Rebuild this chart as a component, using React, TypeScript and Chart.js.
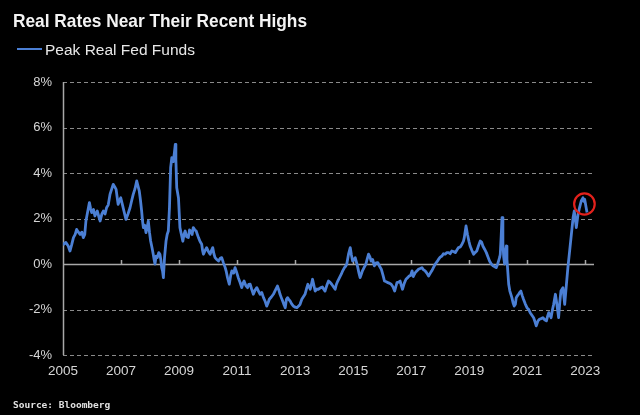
import React, { useEffect, useRef } from "react";
import { Chart, registerables } from "chart.js";

Chart.register(...registerables);

// ---- Data (decimal year, real rate %) ----
const dates: number[] = [
  2005.00, 2005.03, 2005.10, 2005.18, 2005.24, 2005.30, 2005.36, 2005.42, 2005.47, 2005.53, 2005.59, 2005.65, 2005.70, 2005.75, 2005.79, 2005.85, 2005.91, 2005.95, 2005.99,
  2006.05, 2006.10, 2006.18, 2006.23, 2006.28, 2006.34, 2006.39, 2006.45, 2006.50, 2006.56, 2006.62, 2006.68, 2006.73, 2006.78, 2006.83, 2006.87, 2006.90, 2006.95, 2006.99,
  2007.05, 2007.10, 2007.17, 2007.24, 2007.31, 2007.37, 2007.42, 2007.48, 2007.54, 2007.59, 2007.63, 2007.67, 2007.71, 2007.74, 2007.77, 2007.82, 2007.86, 2007.90, 2007.94, 2007.98,
  2008.02, 2008.07, 2008.11, 2008.14, 2008.17, 2008.21, 2008.25, 2008.30, 2008.34, 2008.37, 2008.40, 2008.43, 2008.46, 2008.50, 2008.55, 2008.59, 2008.63, 2008.67, 2008.71, 2008.75, 2008.80, 2008.84, 2008.87, 2008.89, 2008.92, 2008.98,
  2009.03, 2009.08, 2009.13, 2009.17, 2009.21, 2009.26, 2009.32, 2009.36, 2009.40, 2009.45, 2009.49, 2009.54, 2009.59, 2009.63, 2009.67, 2009.72, 2009.78, 2009.81, 2009.84, 2009.90, 2009.95,
  2010.01, 2010.07, 2010.12, 2010.16, 2010.20, 2010.24, 2010.30, 2010.36, 2010.42, 2010.47, 2010.53, 2010.59, 2010.63, 2010.67, 2010.73, 2010.78, 2010.82, 2010.88, 2010.93, 2010.98,
  2011.04, 2011.10, 2011.16, 2011.20, 2011.24, 2011.30, 2011.36, 2011.40, 2011.45, 2011.50, 2011.56, 2011.62, 2011.68, 2011.74, 2011.79, 2011.85, 2011.91, 2011.97,
  2012.02, 2012.07, 2012.11, 2012.18, 2012.25, 2012.32, 2012.39, 2012.44, 2012.48, 2012.53, 2012.57, 2012.62, 2012.66, 2012.70, 2012.74, 2012.78, 2012.83, 2012.88, 2012.94,
  2013.00, 2013.06, 2013.12, 2013.17, 2013.23, 2013.28, 2013.34, 2013.39, 2013.44, 2013.48, 2013.52, 2013.56, 2013.60, 2013.64, 2013.69, 2013.75, 2013.80, 2013.87, 2013.94, 2013.98,
  2014.03, 2014.09, 2014.15, 2014.20, 2014.26, 2014.32, 2014.38, 2014.42, 2014.47, 2014.53, 2014.59, 2014.64, 2014.70, 2014.74, 2014.78, 2014.84, 2014.90, 2014.94, 2014.98,
  2015.03, 2015.07, 2015.12, 2015.16, 2015.20, 2015.24, 2015.28, 2015.32, 2015.38, 2015.44, 2015.48, 2015.53, 2015.58, 2015.62, 2015.67, 2015.73, 2015.79, 2015.85, 2015.91, 2015.97,
  2016.03, 2016.08, 2016.14, 2016.20, 2016.26, 2016.31, 2016.37, 2016.43, 2016.47, 2016.51, 2016.57, 2016.62, 2016.66, 2016.70, 2016.76, 2016.82, 2016.88, 2016.93, 2016.98,
  2017.03, 2017.07, 2017.11, 2017.14, 2017.20, 2017.25, 2017.31, 2017.37, 2017.42, 2017.48, 2017.54, 2017.60, 2017.66, 2017.71, 2017.77, 2017.83, 2017.89, 2017.94,
  2018.00, 2018.06, 2018.11, 2018.17, 2018.23, 2018.29, 2018.34, 2018.40, 2018.46, 2018.52, 2018.57, 2018.63, 2018.69, 2018.75, 2018.80, 2018.83, 2018.89, 2018.94, 2018.99,
  2019.03, 2019.09, 2019.15, 2019.20, 2019.26, 2019.32, 2019.38, 2019.43, 2019.47, 2019.53, 2019.59, 2019.65, 2019.70, 2019.76, 2019.82, 2019.88, 2019.93, 2019.98,
  2020.01, 2020.05, 2020.07, 2020.10, 2020.13, 2020.16, 2020.19, 2020.22, 2020.25, 2020.28, 2020.30, 2020.32, 2020.36, 2020.40, 2020.47, 2020.51, 2020.55, 2020.59, 2020.62, 2020.66, 2020.70, 2020.74, 2020.78, 2020.83, 2020.87, 2020.93, 2020.99,
  2021.05, 2021.10, 2021.16, 2021.22, 2021.27, 2021.31, 2021.37, 2021.42, 2021.48, 2021.54, 2021.60, 2021.66, 2021.70, 2021.74, 2021.78, 2021.82, 2021.87, 2021.91, 2021.97,
  2022.02, 2022.08, 2022.12, 2022.16, 2022.23, 2022.29, 2022.34, 2022.40, 2022.46, 2022.52, 2022.58, 2022.62, 2022.69, 2022.75, 2022.80, 2022.86, 2022.92, 2022.95, 2022.98,
  2023.03, 2023.06,
];

const values: number[] = [
  0.90, 0.87, 0.95, 0.79, 0.57, 0.85, 1.16, 1.30, 1.52, 1.40, 1.30, 1.40, 1.16, 1.30, 1.89, 2.30, 2.70, 2.45, 2.26,
  2.40, 2.11, 2.33, 2.10, 1.89, 2.20, 2.33, 2.20, 2.47, 2.60, 3.06, 3.30, 3.50, 3.40, 3.28, 2.90, 2.62, 2.80, 2.91,
  2.60, 2.33, 1.96, 2.20, 2.47, 2.80, 3.06, 3.30, 3.65, 3.40, 3.20, 2.80, 2.33, 1.90, 1.60, 1.70, 1.38, 1.60, 1.89, 1.40,
  1.01, 0.70, 0.43, 0.20, 0.00, 0.35, 0.28, 0.50, 0.43, 0.20, -0.16, -0.30, -0.60, 0.30, 1.00, 1.30, 1.45, 2.50, 4.23, 4.67, 4.50, 4.90, 5.26, 4.60, 3.35, 2.90,
  1.60, 1.30, 1.00, 1.30, 1.45, 1.20, 1.16, 1.50, 1.45, 1.30, 1.60, 1.50, 1.45, 1.30, 1.16, 1.00, 0.87, 0.60, 0.43, 0.60, 0.72,
  0.55, 0.43, 0.60, 0.72, 0.45, 0.28, 0.20, 0.13, 0.25, 0.28, 0.05, -0.16, -0.35, -0.60, -0.89, -0.50, -0.30, -0.40, -0.16, -0.35,
  -0.60, -0.80, -1.04, -0.85, -0.75, -0.95, -1.04, -0.90, -0.89, -1.10, -1.33, -1.15, -1.04, -1.20, -1.33, -1.25, -1.48, -1.65,
  -1.85, -1.70, -1.55, -1.45, -1.33, -1.15, -0.97, -1.15, -1.33, -1.50, -1.63, -1.80, -1.92, -1.55, -1.48, -1.55, -1.63, -1.75, -1.85,
  -1.90, -1.92, -1.85, -1.77, -1.55, -1.45, -1.33, -1.10, -0.89, -1.00, -1.11, -0.90, -0.67, -0.90, -1.19, -1.10, -1.11, -1.05, -1.01, -1.10,
  -1.19, -0.95, -0.75, -0.80, -0.89, -1.00, -1.11, -0.90, -0.75, -0.60, -0.45, -0.30, -0.16, -0.10, 0.00, 0.43, 0.72, 0.40, 0.13,
  0.20, 0.28, 0.05, -0.16, -0.40, -0.60, -0.45, -0.30, -0.15, 0.00, 0.20, 0.43, 0.30, 0.13, 0.20, -0.08, 0.05, 0.06, -0.10, -0.23,
  -0.50, -0.75, -0.78, -0.82, -0.85, -0.89, -1.00, -1.19, -1.00, -0.82, -0.80, -0.75, -0.95, -1.11, -0.85, -0.67, -0.60, -0.53, -0.50,
  -0.30, -0.55, -0.45, -0.38, -0.30, -0.23, -0.20, -0.16, -0.25, -0.30, -0.40, -0.53, -0.40, -0.30, -0.15, 0.00, 0.10, 0.20,
  0.30, 0.35, 0.45, 0.43, 0.50, 0.50, 0.45, 0.57, 0.55, 0.50, 0.60, 0.72, 0.75, 0.87, 1.00, 1.16, 1.67, 1.30, 1.00,
  0.79, 0.60, 0.43, 0.50, 0.57, 0.80, 1.01, 0.95, 0.79, 0.65, 0.50, 0.30, 0.13, 0.00, -0.08, -0.12, -0.16, 0.00,
  0.13, 0.30, 0.43, 1.20, 2.04, 0.90, 0.28, 0.00, 0.50, 0.79, 0.20, -0.16, -0.89, -1.19, -1.48, -1.70, -1.85, -1.77, -1.48, -1.40, -1.33, -1.25, -1.19, -1.40, -1.55, -1.75, -1.92,
  -2.00, -2.14, -2.25, -2.36, -2.55, -2.72, -2.50, -2.43, -2.40, -2.36, -2.45, -2.50, -2.30, -2.14, -2.25, -2.36, -2.00, -1.77, -1.33,
  -1.77, -2.36, -1.70, -1.19, -1.04, -1.77, -1.04, -0.16, 0.57, 1.30, 2.04, 2.33, 1.60, 2.18, 2.47, 2.77, 2.91, 2.75, 2.84,
  2.47, 2.26,
];

const xTickYears: number[] = [2005, 2007, 2009, 2011, 2013, 2015, 2017, 2019, 2021, 2023];
const yTickValues: number[] = [-4, -2, 0, 2, 4, 6, 8];
const highlightYear = 2022.97;
const highlightValue = 2.64;

const TITLE = "Real Rates Near Their Recent Highs";
const SERIES_NAME = "Peak Real Fed Funds";
const SOURCE = "Source: Bloomberg";

const BLUE = "#4b7fd4";

const customDraw = {
  id: "customDraw",
  beforeDatasetsDraw(chart: any) {
    const { ctx, chartArea, scales } = chart;
    const ys = scales.y;
    const xs = scales.x;
    ctx.save();
    yTickValues.forEach((v) => {
      const py = Math.round(ys.getPixelForValue(v)) + 0.5;
      ctx.beginPath();
      if (v === 0) {
        ctx.setLineDash([]);
        ctx.strokeStyle = "#a8a8a8";
        ctx.lineWidth = 1.5;
      } else {
        ctx.setLineDash([4, 3]);
        ctx.strokeStyle = "#8a8a8a";
        ctx.lineWidth = 1;
      }
      ctx.moveTo(chartArea.left, py);
      ctx.lineTo(chartArea.right, py);
      ctx.stroke();
    });
    ctx.setLineDash([]);
    ctx.strokeStyle = "#a8a8a8";
    ctx.lineWidth = 1.5;
    ctx.beginPath();
    const lx = chartArea.left + 0.5;
    ctx.moveTo(lx, ys.getPixelForValue(yTickValues[yTickValues.length - 1]));
    ctx.lineTo(lx, ys.getPixelForValue(yTickValues[0]));
    const zy = ys.getPixelForValue(0);
    xTickYears.slice(1).forEach((yr) => {
      const px = Math.round(xs.getPixelForValue(yr)) + 0.5;
      ctx.moveTo(px, zy);
      ctx.lineTo(px, zy - 4);
    });
    ctx.stroke();
    ctx.restore();
  },
  afterDatasetsDraw(chart: any) {
    const { ctx, scales } = chart;
    const cx = scales.x.getPixelForValue(highlightYear);
    const cy = scales.y.getPixelForValue(highlightValue);
    ctx.save();
    ctx.strokeStyle = "#e3211c";
    ctx.lineWidth = 2.2;
    ctx.beginPath();
    ctx.ellipse(cx, cy, 10.3, 10.6, 0, 0, Math.PI * 2);
    ctx.stroke();
    ctx.restore();
  },
};

export default function App() {
  const canvasRef = useRef<HTMLCanvasElement | null>(null);

  useEffect(() => {
    if (!canvasRef.current) return;
    const points = dates.map((d, i) => ({ x: d, y: values[i] }));
    const chart = new Chart(canvasRef.current, {
      type: "line",
      data: {
        datasets: [
          {
            label: SERIES_NAME,
            data: points,
            borderColor: BLUE,
            borderWidth: 2.8,
            pointRadius: 0,
            tension: 0,
            fill: false,
            borderJoinStyle: "round",
          },
        ],
      },
      options: {
        responsive: false,
        animation: false,
        devicePixelRatio: 1,
        layout: { padding: { top: 82, right: 46, left: 0, bottom: 0 } },
        plugins: {
          legend: { display: false },
          title: { display: false },
          tooltip: { enabled: false },
        },
        scales: {
          x: {
            type: "linear",
            min: 2005,
            max: 2023.3,
            grid: { display: false, drawTicks: false },
            border: { display: false },
            afterFit: (scale: any) => {
              scale.height = 60;
            },
            afterBuildTicks: (scale: any) => {
              scale.ticks = xTickYears.map((v) => ({ value: v }));
            },
            ticks: {
              color: "#d6d6d6",
              font: { family: "'Liberation Sans', Arial, sans-serif", size: 13.5 },
              padding: 8,
              maxRotation: 0,
              autoSkip: false,
              callback: (v: any) => String(v),
            },
          },
          y: {
            type: "linear",
            min: -4,
            max: 8,
            grid: { display: false, drawTicks: false },
            border: { display: false },
            afterFit: (scale: any) => {
              scale.width = 63;
            },
            afterBuildTicks: (scale: any) => {
              scale.ticks = yTickValues.map((v) => ({ value: v }));
            },
            ticks: {
              color: "#d6d6d6",
              font: { family: "'Liberation Sans', Arial, sans-serif", size: 13 },
              padding: 11,
              callback: (v: any) => `${v}%`,
            },
          },
        },
      },
      plugins: [customDraw],
    });
    return () => chart.destroy();
  }, []);

  return (
    <div
      style={{
        position: "absolute",
        left: 0,
        top: 0,
        width: 640,
        height: 415,
        background: "#000",
        overflow: "hidden",
      }}
    >
      <canvas
        ref={canvasRef}
        width={640}
        height={415}
        style={{ position: "absolute", left: 0, top: 0, width: 640, height: 415 }}
      />
      <div
        style={{
          position: "absolute",
          left: 13,
          top: 11,
          fontFamily: "'Liberation Sans', Arial, sans-serif",
          fontWeight: 700,
          fontSize: 19,
          lineHeight: "19px",
          color: "#f4f4f4",
          whiteSpace: "nowrap",
          transform: "scaleX(0.91)",
          transformOrigin: "left top",
        }}
      >
        {TITLE}
      </div>
      <div
        style={{
          position: "absolute",
          left: 17,
          top: 48,
          width: 25,
          height: 2,
          background: BLUE,
        }}
      />
      <div
        style={{
          position: "absolute",
          left: 45,
          top: 41.5,
          fontFamily: "'Liberation Sans', Arial, sans-serif",
          fontSize: 15.5,
          lineHeight: "16px",
          color: "#e8e8e8",
          whiteSpace: "nowrap",
        }}
      >
        {SERIES_NAME}
      </div>
      <div
        style={{
          position: "absolute",
          left: 13,
          top: 399.5,
          fontFamily: "'DejaVu Sans Mono', 'Liberation Mono', monospace",
          fontWeight: 700,
          fontSize: 9.5,
          lineHeight: "10px",
          color: "#e0e0e0",
          whiteSpace: "nowrap",
        }}
      >
        {SOURCE}
      </div>
    </div>
  );
}
